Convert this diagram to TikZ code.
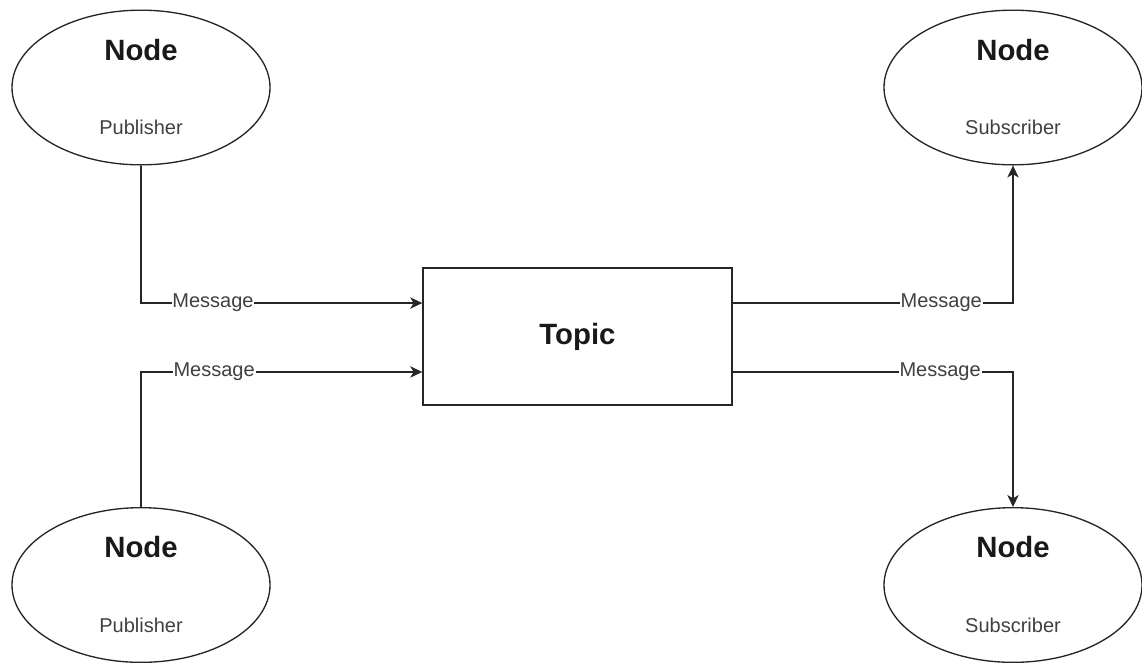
\documentclass[tikz,border=0pt]{standalone}
\usepackage{fontspec}
\setmainfont{Liberation Sans}
\usetikzlibrary{shapes.geometric,arrows.meta}
\begin{document}
\begin{tikzpicture}[x=0.75pt,y=-0.75pt,
  ell/.style={draw=black!85, line width=1pt, ellipse, minimum width=193.5pt, minimum height=116pt, inner sep=0pt},
  title/.style={font=\fontsize{22}{26}\selectfont\bfseries, text=black!90},
  sub/.style={font=\fontsize{15}{18}\selectfont, text=black!75},
  msg/.style={font=\fontsize{15}{18}\selectfont, text=black!75, fill=white, inner sep=0.6pt},
  conn/.style={draw=black!85, line width=1.1pt},
  arr/.style={conn, -{Stealth[length=9pt,width=8.5pt,inset=2.5pt]}},
  box/.style={draw=black!85, line width=1.1pt, minimum width=231.75pt, minimum height=102.75pt, inner sep=0pt, font=\fontsize{22}{26}\selectfont\bfseries, text=black!90}]
\useasboundingbox (0,0) rectangle (1142,662);

% publishers
\node[ell] (pub1) at (141,87.5) {};
\node[title] (pub1t) at (141,50) {Node};
\node[sub] (pub1s) at (141,127) {Publisher};

\node[ell] (pub2) at (141,585) {};
\node[title] (pub2t) at (141,547) {Node};
\node[sub] (pub2s) at (141,625) {Publisher};

% subscribers
\node[ell] (sub1) at (1013,87.5) {};
\node[title] (sub1t) at (1013,50) {Node};
\node[sub] (sub1s) at (1013,127) {Subscriber};

\node[ell] (sub2) at (1013,585) {};
\node[title] (sub2t) at (1013,547) {Node};
\node[sub] (sub2s) at (1013,625) {Subscriber};

% topic
\node[box] (topic) at (577.5,336.5) {Topic};

% connectors
\draw[arr] (pub1.south) |- node[msg,pos=0.628]{Message} ([yshift=25.1pt]topic.west);
\draw[arr] (pub2.north) |- node[msg,pos=0.63]{Message} ([yshift=-26.6pt]topic.west);
\draw[arr] ([yshift=25.1pt]topic.east) -| node[msg,pos=0.372]{Message} (sub1.south);
\draw[arr] ([yshift=-26.6pt]topic.east) -| node[msg,pos=0.37]{Message} (sub2.north);
\end{tikzpicture}
\end{document}
